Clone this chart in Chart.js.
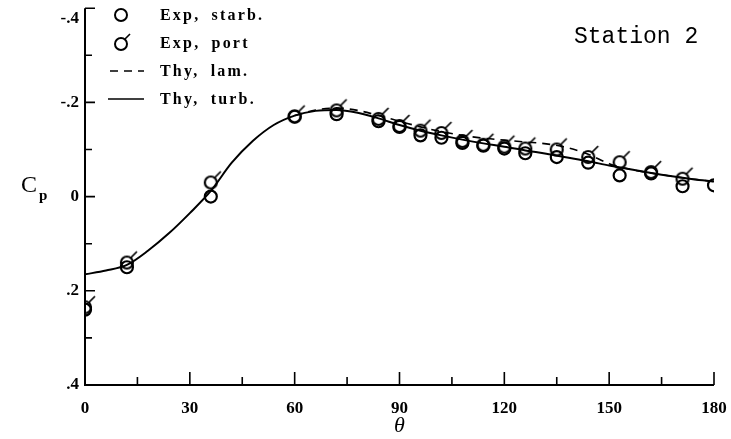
<!DOCTYPE html>
<html lang="en">
<head>
    <meta charset="UTF-8">
    <title>Station 2 pressure coefficient</title>
    <script src="https://cdn.jsdelivr.net/npm/chart.js"></script>
    <style>
        body {
            margin: 0;
            background: #fff;
        }
        #wrap {
            position: relative;
            width: 731px;
            height: 439px;
        }
        #legend {
            position: absolute;
            left: 104px;
            top: 1px;
            font-family: "Liberation Serif", serif;
            font-weight: bold;
            font-size: 16px;
            letter-spacing: 2.2px;
            word-spacing: 5px;
        }
        .row {
            height: 28px;
            display: flex;
            align-items: center;
        }
        .row svg {
            width: 44px;
            height: 24px;
            margin-right: 12px;
        }
        #station {
            position: absolute;
            left: 574px;
            top: 24px;
            font-family: "Liberation Mono", monospace;
            font-size: 23px;
        }
        #cp {
            position: absolute;
            left: 21px;
            top: 171px;
            font-family: "Liberation Serif", serif;
            font-size: 24px;
        }
        #cp sub {
            font-size: 15px;
            font-weight: bold;
            vertical-align: -8px;
            margin-left: 2px;
        }
    </style>
</head>
<body>
<div id="wrap">
    <canvas id="cpChart" width="731" height="439"></canvas>
    <div id="legend">
        <div class="row">
            <svg viewBox="0 0 44 24"><circle cx="17" cy="12" r="6" fill="none" stroke="#000" stroke-width="2"/></svg>
            <span>Exp, starb.</span>
        </div>
        <div class="row">
            <svg viewBox="0 0 44 24"><circle cx="17" cy="13" r="6" fill="none" stroke="#000" stroke-width="2"/><line x1="21" y1="8" x2="26" y2="3" stroke="#000" stroke-width="1.6"/></svg>
            <span>Exp, port</span>
        </div>
        <div class="row">
            <svg viewBox="0 0 44 24"><line x1="6" y1="12" x2="40" y2="12" stroke="#000" stroke-width="1.5" stroke-dasharray="8 6"/></svg>
            <span>Thy, lam.</span>
        </div>
        <div class="row">
            <svg viewBox="0 0 44 24"><line x1="4" y1="12" x2="40" y2="12" stroke="#000" stroke-width="1.5"/></svg>
            <span>Thy, turb.</span>
        </div>
    </div>
    <div id="station">Station 2</div>
    <div id="cp">C<sub>p</sub></div>
</div>
<script>
    // experimental points (theta in degrees, Cp)
    const starbTheta = [0, 12, 36, 60, 72, 84, 90, 96, 102, 108, 114, 120, 126, 135, 144, 153, 162, 171, 180];
    const starbCp = [0.24, 0.15, 0.0, -0.17, -0.175, -0.16, -0.148, -0.13, -0.125, -0.114, -0.108, -0.102, -0.092, -0.084, -0.072, -0.045, -0.049, -0.022, -0.024];

    const portTheta = [0, 12, 36, 60, 72, 84, 90, 96, 102, 108, 114, 120, 126, 135, 144, 153, 162, 171];
    const portCp = [0.235, 0.14, -0.03, -0.17, -0.183, -0.165, -0.15, -0.14, -0.135, -0.118, -0.11, -0.106, -0.102, -0.1, -0.084, -0.073, -0.052, -0.038];

    // theory curves
    const turbTheta = [0, 6, 12, 18, 24, 30, 36, 42, 48, 54, 60, 66, 72, 78, 84, 90, 96, 102, 108, 114, 120, 126, 132, 138, 144, 150, 156, 162, 168, 174, 180];
    const turbCp = [0.165, 0.157, 0.145, 0.115, 0.078, 0.035, -0.012, -0.072, -0.118, -0.152, -0.172, -0.182, -0.184, -0.178, -0.166, -0.152, -0.14, -0.13, -0.121, -0.113, -0.106, -0.098, -0.091, -0.083, -0.075, -0.066, -0.058, -0.05, -0.043, -0.037, -0.032];

    const lamTheta = [60, 66, 72, 78, 84, 90, 96, 102, 108, 114, 120, 126, 132, 138, 144, 150, 156, 162, 168, 174, 180];
    const lamCp = [-0.172, -0.184, -0.188, -0.183, -0.172, -0.16, -0.148, -0.138, -0.13, -0.124, -0.12, -0.116, -0.112, -0.104, -0.09, -0.07, -0.058, -0.05, -0.043, -0.037, -0.032];

    // axis ticks
    const xMajor = [0, 30, 60, 90, 120, 150, 180];
    const xMinor = [15, 45, 75, 105, 135, 165];
    const yMajor = [-0.4, -0.2, 0, 0.2, 0.4];
    const yMinor = [-0.3, -0.1, 0.1, 0.3];

    const tickFont = { family: 'Liberation Serif', weight: 'bold', size: 17 };

    function pairs(xs, ys) {
        return xs.map((x, i) => ({ x: x, y: ys[i] }));
    }

    // port marker: open circle with a short flag
    function portMarker() {
        const c = document.createElement('canvas');
        c.width = 32;
        c.height = 32;
        const g = c.getContext('2d');
        g.strokeStyle = '#000';
        g.lineWidth = 2.2;
        g.beginPath();
        g.arc(16, 16, 6, 0, Math.PI * 2);
        g.stroke();
        g.lineWidth = 1.7;
        g.beginPath();
        g.moveTo(20, 11);
        g.lineTo(26, 5);
        g.stroke();
        return c;
    }

    function tickLabel(v) {
        const r = Math.round(v * 10) / 10;
        if (r === 0) return '0';
        return (r < 0 ? '-' : '') + Math.abs(r).toFixed(1).replace(/^0/, '');
    }

    const framePlugin = {
        id: 'frame',
        beforeDatasetsDraw(chart) {
            const { ctx, chartArea: a, scales: { x, y } } = chart;
            ctx.save();
            ctx.strokeStyle = '#000';
            ctx.lineWidth = 2;
            ctx.beginPath();
            ctx.moveTo(a.left, a.top);
            ctx.lineTo(a.left, a.bottom);
            ctx.lineTo(a.right, a.bottom);
            ctx.stroke();
            ctx.lineWidth = 1.6;
            ctx.beginPath();
            yMajor.forEach(v => {
                const p = y.getPixelForValue(v);
                ctx.moveTo(a.left, p);
                ctx.lineTo(a.left + 10, p);
            });
            yMinor.forEach(v => {
                const p = y.getPixelForValue(v);
                ctx.moveTo(a.left, p);
                ctx.lineTo(a.left + 7, p);
            });
            xMajor.forEach(v => {
                const p = x.getPixelForValue(v);
                ctx.moveTo(p, a.bottom);
                ctx.lineTo(p, a.bottom - 13);
            });
            xMinor.forEach(v => {
                const p = x.getPixelForValue(v);
                ctx.moveTo(p, a.bottom);
                ctx.lineTo(p, a.bottom - 8);
            });
            ctx.stroke();
            // top label sits a little below its tick, as in the original
            ctx.fillStyle = '#000';
            ctx.font = 'bold 17px "Liberation Serif"';
            ctx.textAlign = 'right';
            ctx.textBaseline = 'middle';
            ctx.fillText(tickLabel(yMajor[0]), a.left - 6, y.getPixelForValue(yMajor[0]) + 10);
            ctx.restore();
        }
    };

    const ctx = document.getElementById('cpChart').getContext('2d');
    new Chart(ctx, {
        type: 'scatter',
        data: {
            datasets: [
                {
                    label: 'Thy, turb.',
                    data: pairs(turbTheta, turbCp),
                    showLine: true,
                    borderColor: '#000',
                    borderWidth: 2,
                    pointRadius: 0,
                    cubicInterpolationMode: 'monotone'
                },
                {
                    label: 'Thy, lam.',
                    data: pairs(lamTheta, lamCp),
                    showLine: true,
                    borderColor: '#000',
                    borderWidth: 1.6,
                    borderDash: [8, 6],
                    pointRadius: 0,
                    cubicInterpolationMode: 'monotone'
                },
                {
                    label: 'Exp, starb.',
                    data: pairs(starbTheta, starbCp),
                    pointStyle: 'circle',
                    pointRadius: 6,
                    borderColor: '#000',
                    borderWidth: 2.2,
                    backgroundColor: 'rgba(0,0,0,0)'
                },
                {
                    label: 'Exp, port',
                    data: pairs(portTheta, portCp),
                    pointStyle: portMarker(),
                    pointRadius: 6
                }
            ]
        },
        options: {
            responsive: false,
            animation: false,
            layout: { padding: { top: 8, right: 17, left: 0, bottom: 0 } },
            plugins: {
                legend: { display: false },
                tooltip: { enabled: false }
            },
            scales: {
                x: {
                    type: 'linear',
                    min: 0,
                    max: 180,
                    afterFit: s => {
                        s.height = 54;
                        s.paddingLeft = 0;
                        s.paddingRight = 0;
                    },
                    grid: { display: false, drawTicks: false },
                    border: { display: false },
                    ticks: {
                        stepSize: 30,
                        padding: 13,
                        color: '#000',
                        font: tickFont
                    },
                    title: {
                        display: true,
                        text: 'θ',
                        color: '#000',
                        padding: { top: 0, bottom: 0 },
                        font: { family: 'Liberation Serif', style: 'italic', size: 22 }
                    }
                },
                y: {
                    type: 'linear',
                    min: -0.4,
                    max: 0.4,
                    reverse: true,
                    afterFit: s => {
                        s.width = 85;
                        s.paddingTop = 0;
                        s.paddingBottom = 0;
                    },
                    grid: { display: false, drawTicks: false },
                    border: { display: false },
                    ticks: {
                        stepSize: 0.2,
                        padding: 6,
                        color: '#000',
                        callback: v => (Math.round(v * 10) === -4 ? '' : tickLabel(v)),
                        font: tickFont
                    }
                }
            }
        },
        plugins: [framePlugin]
    });
</script>
</body>
</html>
